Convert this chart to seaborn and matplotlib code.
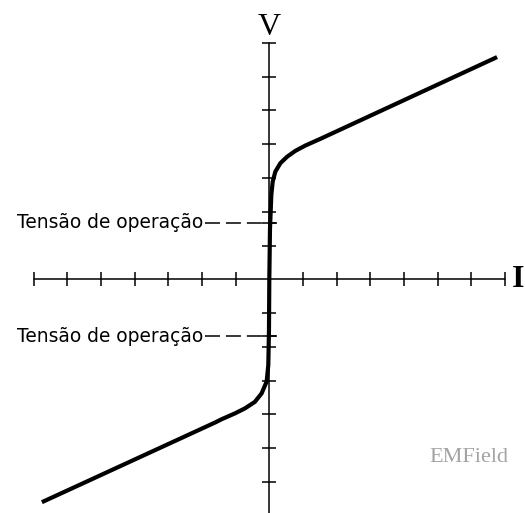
import numpy as np
import pandas as pd
import matplotlib
matplotlib.use("Agg")
import matplotlib.pyplot as plt
import seaborn as sns

corrente = [-6.76, -1.61, -1.41, -1.02, -0.72, -0.43, -0.23, -0.08, -0.03, -0.01, 0.0,
            0.02, 0.06, 0.10, 0.18, 0.33, 0.53, 0.77, 1.07, 1.52, 6.77]
tensao = [-6.60, -4.24, -4.14, -3.97, -3.82, -3.63, -3.38, -3.03, -2.54, -1.50, 0.0,
          1.50, 2.50, 2.89, 3.19, 3.44, 3.63, 3.80, 3.96, 4.16, 6.58]

# marcas dos eixos
ticks_i = [-7, -6, -5, -4, -3, -2, -1, 1, 2, 3, 4, 5, 6, 7]
ticks_v = [-7, -6, -5, -4, -3, -2, -1, 1, 2, 3, 4, 5, 6, 7]

# niveis da tensao de operacao
niveis_op = [1.67, -1.69]
rotulo_op = "Tensão de operação"

df = pd.DataFrame({"I": corrente, "V": tensao})

sns.set_theme(style="white")

fig = plt.figure(figsize=(5.25, 5.13), dpi=100)
ax = fig.add_axes([0, 0, 1, 1])
ax.set_xlim(-8.005, 7.60)
ax.set_ylim(-6.92, 8.27)
ax.axis("off")

# eixos
ax.plot([-7, 7], [0, 0], color="black", lw=1.1, zorder=1)
ax.plot([0, 0], [-7.2, 7], color="black", lw=1.1, zorder=1)
tl = 0.21
ax.vlines(ticks_i, -tl, tl, color="black", lw=1.1, zorder=1)
ax.hlines(ticks_v, -tl, tl, color="black", lw=1.1, zorder=1)

# linhas tracejadas da tensao de operacao
for v in niveis_op:
    ax.plot([-1.91, 0.23], [v, v], color="black", lw=1.1,
            linestyle=(0, (9.8, 3.9)), zorder=1)
    ax.hlines(v, -tl, tl, color="black", lw=1.1, zorder=1)
    ax.text(-1.97, v, rotulo_op, ha="right", va="center", fontsize=13.4,
            family="DejaVu Sans", color="black")

# curva
sns.lineplot(data=df, x="I", y="V", sort=False, estimator=None, ax=ax,
             color="black", lw=3.0, zorder=3)
ax.lines[-1].set_solid_capstyle("butt")
ax.lines[-1].set_solid_joinstyle("round")

ax.text(0, 7.24, "V", ha="center", va="baseline", fontsize=23,
        family="Liberation Serif", color="black")
ax.text(7.57, 0, "I", ha="right", va="center", fontsize=23,
        family="Liberation Serif", color="black", fontweight="bold")
ax.text(5.94, -5.41, "EMField", ha="center", va="baseline", fontsize=16,
        family="Liberation Serif", color="#a3a3a3")

fig.savefig("out.png", dpi=100)
